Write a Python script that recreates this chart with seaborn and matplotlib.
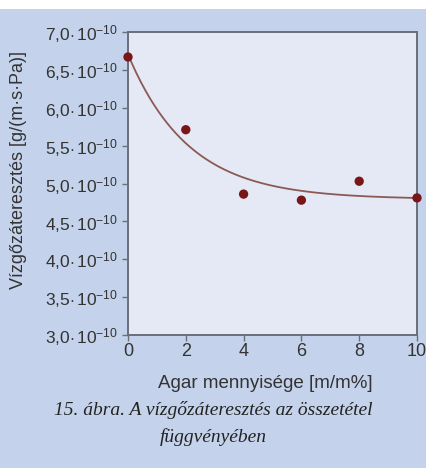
import numpy as np
import pandas as pd
import matplotlib
matplotlib.use("Agg")
import matplotlib.pyplot as plt
import seaborn as sns
from matplotlib.ticker import FuncFormatter, FixedLocator
from matplotlib.patches import Rectangle

# Data
agar = [0, 2, 4, 6, 8, 10]                       # m/m%
permeability = [6.67e-10, 5.71e-10, 4.86e-10, 4.78e-10, 5.03e-10, 4.81e-10]  # g/(m·s·Pa)
y_ticks = [3.0e-10, 3.5e-10, 4.0e-10, 4.5e-10, 5.0e-10, 5.5e-10, 6.0e-10, 6.5e-10, 7.0e-10]
x_ticks = [0, 2, 4, 6, 8, 10]

df = pd.DataFrame({"x": agar, "y": permeability})

# exponential trend line fitted to the data points (least squares)
xs = np.asarray(agar, float)
ys = np.asarray(permeability, float) * 1e10
best = None
for k in np.linspace(0.05, 2.0, 400):
    A = np.column_stack([np.ones_like(xs), np.exp(-k * xs)])
    coef, res, *_ = np.linalg.lstsq(A, ys, rcond=None)
    r = np.sum((A @ coef - ys) ** 2)
    if best is None or r < best[0]:
        best = (r, k, coef)
_, k, coef = best
xf = np.linspace(0, 10, 200)
fit = pd.DataFrame({"x": xf, "y": (coef[0] + coef[1] * np.exp(-k * xf)) * 1e-10})

sns.set_theme(style="white")
plt.rcParams["font.family"] = ["Liberation Sans", "DejaVu Sans"]
plt.rcParams["mathtext.fontset"] = "custom"
plt.rcParams["mathtext.rm"] = "Liberation Sans"
plt.rcParams["mathtext.it"] = "Liberation Sans"

fig = plt.figure(figsize=(4.27, 4.68), dpi=100)
fig.patch.set_facecolor("#c4d3eb")
fig.add_artist(Rectangle((0, 1 - 9 / 468), 1, 9 / 468, transform=fig.transFigure,
                         facecolor="white", edgecolor="none", zorder=0))

ax = fig.add_axes([128 / 427, 1 - 335 / 468, (417 - 128) / 427, (335 - 32) / 468])
ax.set_facecolor("#e5e9f6")

sns.lineplot(data=fit, x="x", y="y", ax=ax, color="#8a5a52", linewidth=1.3)
sns.scatterplot(data=df, x="x", y="y", ax=ax, color="#7a1618", s=45,
                edgecolor="none", clip_on=False, zorder=5)

ax.set_xlim(0, 10)
ax.set_ylim(3.0e-10, 7.0e-10)
ax.xaxis.set_major_locator(FixedLocator(x_ticks))
ax.yaxis.set_major_locator(FixedLocator(y_ticks))


def yfmt(v, pos):
    m = v * 1e10
    return r"%s$\cdot\,$10$^{-10}$" % (f"{m:.1f}".replace(".", ","))


ax.yaxis.set_major_formatter(FuncFormatter(yfmt))
ax.tick_params(axis="both", direction="out", length=4, width=1.0, color="#6a6e78",
               labelcolor="#333333", pad=3, left=True, bottom=True)
ax.tick_params(axis="y", labelsize=12.5)
ax.tick_params(axis="x", labelsize=13, pad=2)
for s in ax.spines.values():
    s.set_color("#6a6e78")
    s.set_linewidth(1.4)

ax.set_xlabel("Agar mennyisége [m/m%]", fontsize=13.5, color="#333333")
ax.set_ylabel("Vízgőzáteresztés [g/(m·s·Pa)]", fontsize=13, color="#333333")
ax.xaxis.set_label_coords((265 - 128) / 289, (335 - 383) / 303)
ax.yaxis.set_label_coords((19 - 128) / 289, 1 - (170 - 32) / 303)
ax.xaxis.label.set_va("center")
ax.yaxis.label.set_va("center")

fig.text(0.5, 1 - 410 / 468, "15. ábra. A vízgőzáteresztés az összetétel",
         ha="center", va="center", fontsize=14, style="italic",
         family=["Liberation Serif", "DejaVu Serif"], color="#222222")
fig.text(0.5, 1 - 437 / 468, "függvényében",
         ha="center", va="center", fontsize=14, style="italic",
         family=["Liberation Serif", "DejaVu Serif"], color="#222222")

fig.savefig("out.png", dpi=100, facecolor=fig.get_facecolor())
